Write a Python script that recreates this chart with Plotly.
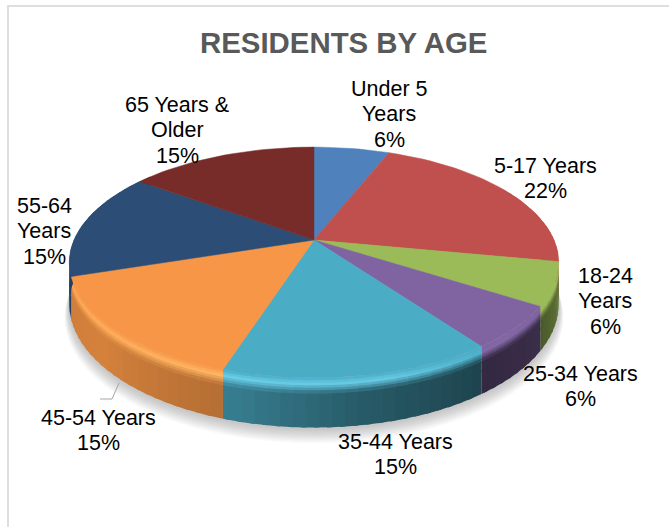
import math
import plotly.graph_objects as go

# Residents by age group, percent of total
categories = ["Under 5 Years", "5-17 Years", "18-24 Years", "25-34 Years",
              "35-44 Years", "45-54 Years", "55-64 Years", "65 Years & Older"]
shares = [6, 22, 6, 6, 15, 15, 15, 15]
slice_colors = [(79, 129, 189), (192, 80, 77), (155, 187, 89), (128, 100, 162),
                (75, 172, 198), (247, 150, 70), (44, 77, 117), (119, 44, 42)]

# Wrapped label lines and the centre of each label block
label_lines = [["Under 5", "Years"], ["5-17 Years"], ["18-24", "Years"], ["25-34 Years"],
               ["35-44 Years"], ["45-54 Years"], ["55-64", "Years"], ["65 Years &", "Older"]]
label_x = [389, 545, 605, 580, 395, 98, 44, 177]
label_top = [89, 166, 276, 374, 442, 418, 206, 105]
LINE_STEP = 25.4

# Perspective disc: canvas pixels on both axes
CX, CY = 314, 240
RX, RY, PERSP = 240, 111, 0.195
THICK = 40


def rim(theta_deg, scale=1.0):
    t = math.radians(theta_deg)
    d = 1 + PERSP * math.cos(t)
    return CX + scale * RX * math.sin(t) / d, CY - scale * RY * math.cos(t) / d


def wall_height(theta_deg):
    return THICK / (1 + PERSP * math.cos(math.radians(theta_deg)))


def interp(stops, x):
    if x <= stops[0][0]:
        return stops[0][1]
    for (a, va), (b, vb) in zip(stops, stops[1:]):
        if x <= b:
            return va + (vb - va) * (x - a) / (b - a)
    return stops[-1][1]


SHADE = [(60, 0.5), (100, 0.68), (125, 0.45), (145, 0.40), (170, 0.52),
         (195, 0.72), (230, 0.86), (270, 0.82), (310, 0.7)]
GLOW = [(120, 0.0), (145, 0.05), (165, 0.25), (195, 0.28), (250, 0.14), (300, 0.0)]


def mix(c, target, f):
    return tuple(a + (b - a) * f for a, b in zip(c, target))


def wall_color(base, theta, t):
    glow = interp(GLOW, theta)
    wall = mix(base, (0, 0, 0), 1 - interp(SHADE, theta))
    boosted = tuple(min(255, v * (1 + 0.6 * glow)) for v in base)
    lit = mix(boosted, (255, 255, 255), glow * 0.4)
    if t < 0.12:
        c = mix(base, lit, t / 0.12)
    elif t < 0.32:
        c = mix(lit, wall, (t - 0.12) / 0.2)
    else:
        c = wall
    return "rgb(%d,%d,%d)" % tuple(round(v) for v in c)


fig = go.Figure()


def polygon(xs, ys, color, edge=0.0):
    fig.add_trace(go.Scatter(x=xs, y=ys, mode="lines", fill="toself", fillcolor=color,
                             line=dict(color=color, width=edge), hoverinfo="skip", showlegend=False))


# Soft shadow under the disc
LAYERS = 12
for i in range(LAYERS):
    grow = 1 + 0.0016 * (LAYERS - i)
    drop = 1 + (LAYERS - i)
    xs, ys = [], []
    for a in range(0, 361, 4):
        x, y = rim(a, grow)
        xs.append(x)
        ys.append(y + wall_height(a) + drop)
    polygon(xs, ys, "rgba(110,110,110,0.03)")

# Cumulative slice boundaries, clockwise from twelve o'clock
edges = [0.0]
for s in shares:
    edges.append(edges[-1] + s * 3.6)

# Outer wall with its rounded lit edge; neighbouring quads overlap to hide seams
STRIPS = [0, 0.05, 0.1, 0.15, 0.2, 0.25, 0.32, 0.5, 1]
STEP = 2.5
for i, base in enumerate(slice_colors):
    lo, hi = max(edges[i], 60), min(edges[i + 1], 310)
    a = lo
    while a < hi:
        b = min(a + STEP, hi)
        far = min(b + 1.0, hi)
        ha, hb = wall_height(a), wall_height(far)
        (xa, ya), (xb, yb) = rim(a), rim(far)
        shade = (a + b) / 2
        for t0, t1 in zip(STRIPS, STRIPS[1:]):
            t_end = min(t1 + 0.03, 1)
            polygon([xa, xb, xb, xa],
                    [ya + t0 * ha, yb + t0 * hb, yb + t_end * hb, ya + t_end * ha],
                    wall_color(base, shade, (t0 + t1) / 2))
        a = b

# Top face
for i, base in enumerate(slice_colors):
    xs, ys = [CX], [CY]
    n = max(2, int((edges[i + 1] - edges[i]) / 2))
    for k in range(n + 1):
        x, y = rim(edges[i] + (edges[i + 1] - edges[i]) * k / n)
        xs.append(x)
        ys.append(y)
    xs.append(CX)
    ys.append(CY)
    polygon(xs, ys, "rgb(%d,%d,%d)" % base, edge=0.5)

# Leader line for the 45-54 label
fig.add_trace(go.Scatter(x=[119, 112, 100], y=[383, 399, 399], mode="lines",
                         line=dict(color="rgb(166,166,166)", width=1),
                         hoverinfo="skip", showlegend=False))

# Chart frame
frame = dict(type="rect", xref="x", yref="y", x0=8, y0=6, x1=700, y1=560,
             line=dict(color="rgb(222,222,222)", width=2), fillcolor="rgba(0,0,0,0)")

annotations = [dict(x=343.5, y=42, text="<b>RESIDENTS BY AGE</b>", showarrow=False,
                    font=dict(family="Liberation Sans", size=29.4, color="rgb(89,89,89)"))]
for lines, share, x, top in zip(label_lines, shares, label_x, label_top):
    for n, line in enumerate(lines + [f"{share}%"]):
        annotations.append(dict(x=x, y=top + n * LINE_STEP, text=line, showarrow=False,
                                font=dict(family="Liberation Sans", size=21.5, color="rgb(0,0,0)")))

fig.update_layout(
    width=669, height=527, margin=dict(l=0, r=0, t=0, b=0),
    paper_bgcolor="white", plot_bgcolor="white", showlegend=False,
    xaxis=dict(range=[0, 669], visible=False, fixedrange=True),
    yaxis=dict(range=[527, 0], visible=False, fixedrange=True),
    shapes=[frame], annotations=annotations,
)
fig.write_html("out.html", config=dict(displayModeBar=False))
